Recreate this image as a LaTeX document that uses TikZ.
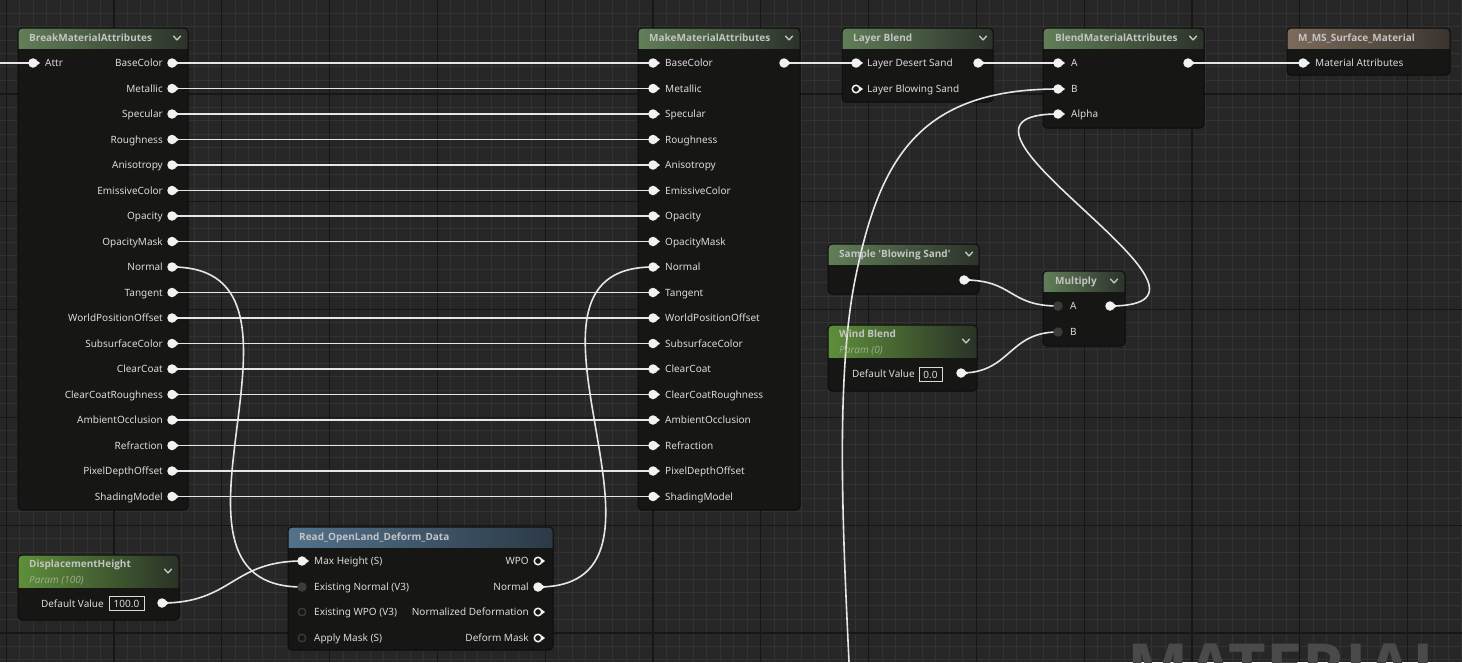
\documentclass[tikz,border=0pt]{standalone}
\usepackage{fontspec}
\setmainfont{Noto Sans}[Ligatures=TeXOff]
\newfontfamily\hdrfont{Open Sans}[Ligatures=TeXOff]
\usetikzlibrary{calc}
\definecolor{bgc}{HTML}{262626}
\definecolor{gridminor}{HTML}{323232}
\definecolor{gridmajor}{HTML}{161616}
\definecolor{bodyc}{HTML}{161715}
\definecolor{edgec}{HTML}{0C0C0C}
\definecolor{wirec}{HTML}{E6E6E6}
\definecolor{pinwc}{HTML}{F2F2F2}
\definecolor{lblc}{HTML}{DADADA}
\definecolor{titlec}{HTML}{C4C4C4}
\definecolor{greenL}{HTML}{617F58}
\definecolor{greenM}{HTML}{506A49}
\definecolor{greenR}{HTML}{2C322A}
\definecolor{paramL}{HTML}{5E8F3A}
\definecolor{paramM}{HTML}{4A7430}
\definecolor{paramR}{HTML}{2A3227}
\definecolor{brownL}{HTML}{7C6B5B}
\definecolor{brownM}{HTML}{645649}
\definecolor{brownR}{HTML}{3A342F}
\definecolor{blueL}{HTML}{52728C}
\definecolor{blueM}{HTML}{435E74}
\definecolor{blueR}{HTML}{2C3A47}
\definecolor{paramtxt}{HTML}{9FB08C}
\definecolor{darkpin}{HTML}{3C3C3C}
\definecolor{wmc}{HTML}{4A4A4A}
\pgfdeclarelayer{bg}
\pgfdeclarelayer{bodies}
\pgfdeclarelayer{wires}
\pgfsetlayers{bg,bodies,wires,main}
% name x1 y1 x2 y2 headerbottom left middle right
\newcommand\uebox[9]{%
  \begin{pgfonlayer}{bodies}
    \fill[bodyc, rounded corners=4pt] (#2,#3) rectangle (#4,#5);
    \begin{scope}
      \clip[rounded corners=4pt] (#2,#3) rectangle (#4,#5);
      \shade[left color=#7, middle color=#8, right color=#9] (#2,#3) rectangle (#4,#6);
    \end{scope}
    \draw[edgec, line width=1pt, rounded corners=4pt] (#2,#3) rectangle (#4,#5);
  \end{pgfonlayer}
  \coordinate (#1) at (#2,#3);
}
\newcommand\pinarrow[2][pinwc]{\fill[#1] (#2.center) ++(3.6,-2.6) -- ++(3.4,2.6) -- ++(-3.4,2.6) -- cycle;}
\newcommand\chevron[2]{\draw[chev] (#1-3.5,#2-1.8) -- (#1,#2+1.8) -- (#1+3.5,#2-1.8);}
\begin{document}
\begin{tikzpicture}[x=1pt,y=-1pt,
  wire/.style={draw=wirec, line width=1.6pt},
  pinw/.style={circle, fill=pinwc, minimum size=9.5pt, inner sep=0pt},
  pinh/.style={circle, draw=pinwc, line width=1.5pt, minimum size=7.5pt, inner sep=0pt},
  pind/.style={circle, fill=darkpin, minimum size=9.5pt, inner sep=0pt},
  pindh/.style={circle, draw=darkpin, line width=1.3pt, minimum size=7.5pt, inner sep=0pt},
  lbl/.style={text=lblc, font=\fontsize{10}{12}\selectfont, inner sep=0pt, text height=7.2pt, text depth=0pt},
  ttl/.style={text=titlec, font=\hdrfont\fontsize{10}{12}\selectfont\bfseries, inner sep=0pt, text height=7.2pt, text depth=0pt, anchor=west},
  prm/.style={text=paramtxt, font=\hdrfont\fontsize{10}{12}\selectfont\itshape, inner sep=0pt, text height=7.2pt, text depth=0pt, anchor=west},
  chev/.style={draw=titlec, line width=1.4pt, line cap=round, line join=round},
  valbox/.style={draw=lblc, line width=0.8pt, text=lblc, font=\fontsize{10}{12}\selectfont, inner sep=0pt, minimum height=14pt}]
\useasboundingbox (0,0) rectangle (1462,662);
% ---------- background grid ----------
\begin{pgfonlayer}{bg}
  \fill[bgc] (0,0) rectangle (1462,662);
  \foreach \i in {0,...,108} {
    \pgfmathsetmacro\xx{6.2+13.475*\i}
    \draw[gridminor, line width=1pt] (\xx,0) -- (\xx,662);
  }
  \foreach \j in {1,...,50} {
    \pgfmathsetmacro\yy{-13.9+13.475*\j}
    \draw[gridminor, line width=1pt] (0,\yy) -- (1462,\yy);
  }
  \foreach \i in {0,...,13} {
    \pgfmathsetmacro\xx{6.2+107.8*\i}
    \draw[gridmajor, line width=1.2pt] (\xx,0) -- (\xx,662);
  }
  \foreach \j in {1,...,6} {
    \pgfmathsetmacro\yy{-13.9+107.8*\j}
    \draw[gridmajor, line width=1.2pt] (0,\yy) -- (1462,\yy);
  }
  \node[anchor=north west, inner sep=0pt, text=wmc, font=\hdrfont\fontsize{65}{65}\selectfont\bfseries] (watermark) at (1127,644) {MATERIAL};
\end{pgfonlayer}

% ---------- BreakMaterialAttributes ----------
\uebox{bkbox}{18}{28}{188}{510}{48}{greenL}{greenM}{greenR}
\node[ttl] (bktitle) at (29,38) {BreakMaterialAttributes};
\chevron{177}{38}
\node[pinw] (bkattr) at (33,63) {}; \pinarrow{bkattr}
\node[lbl, anchor=west] (bkattrl) at (45,63) {Attr};
\coordinate (attrsrc) at (0,63);

% ---------- MakeMaterialAttributes ----------
\uebox{mkbox}{638}{28}{800}{510}{48}{greenL}{greenM}{greenR}
\node[ttl] (mktitle) at (649,38) {MakeMaterialAttributes};
\chevron{789}{38}
\node[pinw] (mkout) at (784,63) {}; \pinarrow{mkout}

\foreach \lab [count=\i from 0] in {BaseColor,Metallic,Specular,Roughness,Anisotropy,EmissiveColor,Opacity,OpacityMask,Normal,Tangent,WorldPositionOffset,SubsurfaceColor,ClearCoat,ClearCoatRoughness,AmbientOcclusion,Refraction,PixelDepthOffset,ShadingModel} {
  \pgfmathsetmacro\yy{63+25.5*\i}
  \node[pinw] (bk\i) at (172,\yy) {}; \pinarrow{bk\i}
  \node[lbl, anchor=east] (bkl\i) at (163,\yy) {\lab};
  \node[pinw] (mk\i) at (653,\yy) {}; \pinarrow{mk\i}
  \node[lbl, anchor=west] (mkl\i) at (665,\yy) {\lab};
}

% ---------- Layer Blend ----------
\uebox{lbbox}{842}{28}{993}{102}{48}{greenL}{greenM}{greenR}
\node[ttl] (lbtitle) at (853,38) {Layer Blend};
\chevron{983}{38}
\node[pinw] (lbin) at (856,63) {}; \pinarrow{lbin}
\node[lbl, anchor=west] (lbinl) at (867,63) {Layer Desert Sand};
\node[pinw] (lbout) at (978,63) {}; \pinarrow{lbout}
\node[pinh] (lbbs) at (856,89) {}; \pinarrow{lbbs}
\node[lbl, anchor=west] (lbbsl) at (867,89) {Layer Blowing Sand};

% ---------- BlendMaterialAttributes ----------
\uebox{blbox}{1043}{28}{1204}{128}{48}{greenL}{greenM}{greenR}
\node[ttl] (bltitle) at (1055,38) {BlendMaterialAttributes};
\chevron{1193}{38}
\node[pinw] (blA) at (1058,63) {}; \pinarrow{blA}
\node[lbl, anchor=west] (blAl) at (1071,63) {A};
\node[pinw] (blB) at (1058,89) {}; \pinarrow{blB}
\node[lbl, anchor=west] (blBl) at (1071,89) {B};
\node[pinw] (blAlpha) at (1058,114) {}; \pinarrow{blAlpha}
\node[lbl, anchor=west] (blAlphal) at (1071,114) {Alpha};
\node[pinw] (blout) at (1188,63) {}; \pinarrow{blout}

% ---------- M_MS_Surface_Material ----------
\uebox{msbox}{1287}{28}{1450}{75}{48}{brownL}{brownM}{brownR}
\node[ttl] (mstitle) at (1298,38) {M\_MS\_Surface\_Material};
\node[pinw] (msin) at (1303,63) {}; \pinarrow{msin}
\node[lbl, anchor=west] (msinl) at (1315,63) {Material Attributes};

% ---------- Sample 'Blowing Sand' ----------
\uebox{smbox}{828}{244}{979}{294}{264}{greenL}{greenM}{greenR}
\node[ttl] (smtitle) at (839,254) {Sample 'Blowing Sand'};
\chevron{969}{254}
\node[pinw] (smout) at (964,280) {}; \pinarrow{smout}

% ---------- Multiply ----------
\uebox{mubox}{1043}{271}{1125}{346}{291}{greenL}{greenM}{greenR}
\node[ttl] (mutitle) at (1055,281) {Multiply};
\chevron{1114}{281}
\node[pind] (muA) at (1058,306) {};
\node[lbl, anchor=west] (muAl) at (1070,306) {A};
\node[pind] (muB) at (1058,332) {};
\node[lbl, anchor=west] (muBl) at (1070,332) {B};
\node[pinw] (muout) at (1110,306) {}; \pinarrow{muout}

% ---------- Wind Blend ----------
\uebox{wbbox}{828}{325}{977}{391}{357}{paramL}{paramM}{paramR}
\node[ttl] (wbtitle) at (839,334) {Wind Blend};
\node[prm] (wbparam) at (839,350) {Param (0)};
\chevron{966}{341}
\node[lbl, anchor=east] (wbdv) at (915,374) {Default Value};
\node[valbox, minimum width=23pt] (wbval) at (930.5,374.5) {0.0};
\node[pinw] (wbout) at (961,373) {}; \pinarrow{wbout}

% ---------- DisplacementHeight ----------
\uebox{dhbox}{18}{555}{179}{620}{587}{paramL}{paramM}{paramR}
\node[ttl] (dhtitle) at (29,564) {DisplacementHeight};
\node[prm] (dhparam) at (29,580) {Param (100)};
\chevron{168}{571}
\node[lbl, anchor=east] (dhdv) at (104,604) {Default Value};
\node[valbox, minimum width=35pt] (dhval) at (126.5,603.5) {100.0};
\node[pinw] (dhout) at (162,603) {}; \pinarrow{dhout}

% ---------- Read_OpenLand_Deform_Data ----------
\uebox{rdbox}{288}{527}{553}{650}{547}{blueL}{blueM}{blueR}
\node[ttl] (rdtitle) at (299,537) {Read\_OpenLand\_Deform\_Data};
\node[pinw] (rdmax) at (302,561) {}; \pinarrow{rdmax}
\node[lbl, anchor=west] (rdmaxl) at (314,561) {Max Height (S)};
\node[pind] (rdexn) at (302,587) {};
\node[lbl, anchor=west] (rdexnl) at (314,587) {Existing Normal (V3)};
\node[pindh] (rdexw) at (302,612) {};
\node[lbl, anchor=west] (rdexwl) at (314,612) {Existing WPO (V3)};
\node[pindh] (rdmask) at (302,638) {};
\node[lbl, anchor=west] (rdmaskl) at (314,638) {Apply Mask (S)};
\node[pinh] (rdwpo) at (538,561) {}; \pinarrow{rdwpo}
\node[lbl, anchor=east] (rdwpol) at (529,561) {WPO};
\node[pinw] (rdnorm) at (538,587) {}; \pinarrow{rdnorm}
\node[lbl, anchor=east] (rdnorml) at (529,587) {Normal};
\node[pinh] (rdnd) at (538,612) {}; \pinarrow{rdnd}
\node[lbl, anchor=east] (rdndl) at (529,612) {Normalized Deformation};
\node[pinh] (rddm) at (538,638) {}; \pinarrow{rddm}
\node[lbl, anchor=east] (rddml) at (529,638) {Deform Mask};

% ---------- wires ----------
\coordinate (lwsrc) at (849,662);
\coordinate (lwmid) at (855,280);
\begin{pgfonlayer}{wires}
  \draw[wire] (attrsrc) -- (bkattr.center);
  \foreach \i in {0,...,7,9,10,...,17} {
    \draw[wire] (bk\i.center) -- (mk\i.center);
  }
  \draw[wire] (bk8.center) .. controls +(170,0) and +(-170,0) .. (rdexn.center);
  \draw[wire] (rdnorm.center) .. controls +(170,0) and +(-170,0) .. (mk8.center);
  \draw[wire] (dhout.center) .. controls +(70,0) and +(-70,0) .. (rdmax.center);
  \draw[wire] (mkout.center) -- (lbin.center);
  \draw[wire] (lbout.center) -- (blA.center);
  \draw[wire] (blout.center) -- (msin.center);
  \draw[wire] (smout.center) .. controls +(50,0) and +(-50,0) .. (muA.center);
  \draw[wire] (wbout.center) .. controls +(50,0) and +(-50,0) .. (muB.center);
  \draw[wire] (muout.center) .. controls +(155,0) and +(-155,0) .. (blAlpha.center);
  \draw[wire] (lwsrc) .. controls (843.4,542) and (835,380) .. (lwmid) .. controls (879,160) and (918,89) .. (blB.center);
\end{pgfonlayer}
\end{tikzpicture}
\end{document}
